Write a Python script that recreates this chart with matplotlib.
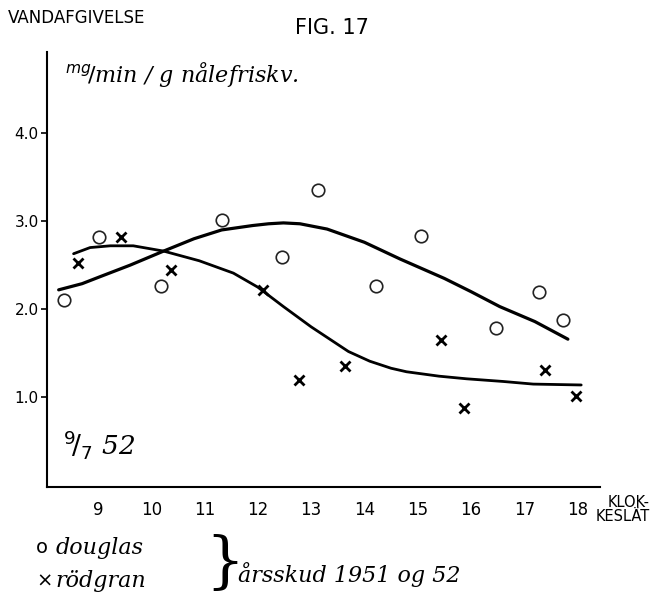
#vandafgivelse, fig 17 - douglas og rødgran 9/7 52
import numpy as np
import matplotlib.pyplot as plt

# clock hours (x) and water loss mg/min/g (y)
douglas_t = [8.36, 9.02, 10.18, 11.32, 12.45, 13.12, 14.22, 15.07, 16.47, 17.28, 17.73]
douglas_v = [2.10, 2.82, 2.26, 3.01, 2.59, 3.35, 2.26, 2.83, 1.79, 2.19, 1.88]

rodgran_t = [8.62, 9.43, 10.36, 12.09, 12.78, 13.64, 15.43, 15.87, 17.39, 17.97]
rodgran_v = [2.53, 2.82, 2.44, 2.22, 1.20, 1.36, 1.65, 0.88, 1.31, 1.01]

# hand drawn curves, traced points
douglas_curve_t = [8.26, 8.7, 9.04, 9.6, 10.23, 10.8, 11.32, 11.9, 12.2, 12.48, 12.79, 13.3, 14.0, 14.67, 15.5, 16.0, 16.54, 17.2, 17.82]
douglas_curve_v = [2.22, 2.29, 2.37, 2.50, 2.66, 2.80, 2.90, 2.95, 2.97, 2.98, 2.97, 2.91, 2.76, 2.57, 2.35, 2.20, 2.03, 1.86, 1.66]

rodgran_curve_t = [8.54, 8.85, 9.23, 9.66, 10.23, 10.9, 11.54, 12.0, 12.48, 13.0, 13.35, 13.7, 14.1, 14.5, 14.79, 15.4, 15.92, 16.6, 17.17, 18.07]
rodgran_curve_v = [2.63, 2.70, 2.72, 2.72, 2.66, 2.55, 2.41, 2.25, 2.03, 1.80, 1.66, 1.52, 1.41, 1.33, 1.29, 1.24, 1.21, 1.18, 1.15, 1.14]

hours = [9, 10, 11, 12, 13, 14, 15, 16, 17, 18]
yticks = [1.0, 2.0, 3.0, 4.0]
ylabels = ['1.0', '2.0', '3.0', '4.0']

fig = plt.figure(figsize=(6.52, 6.12), dpi=100)
ax = fig.add_axes([0.072, 0.204, 0.848, 0.711])

ax.plot(douglas_curve_t, douglas_curve_v, color='black', lw=2.3, solid_capstyle='round', solid_joinstyle='round')
ax.plot(rodgran_curve_t, rodgran_curve_v, color='black', lw=2.0, solid_capstyle='round', solid_joinstyle='round')
ax.plot(douglas_t, douglas_v, 'o', ms=9, mfc='white', mec='#222222', mew=1.2, ls='none')
ax.plot(rodgran_t, rodgran_v, 'x', ms=7, mec='black', mew=2.0, ls='none')

ax.set_xlim(8.04, 18.42)
ax.set_ylim(-0.02, 4.92)
ax.spines['top'].set_visible(False)
ax.spines['right'].set_visible(False)
ax.spines['left'].set_linewidth(1.5)
ax.spines['bottom'].set_linewidth(1.5)

ax.set_xticks(hours)
ax.set_xticklabels([str(h) for h in hours], fontsize=12)
ax.tick_params(axis='x', length=0, pad=10)
ax.set_yticks(yticks)
ax.set_yticklabels(ylabels, fontsize=11)
ax.tick_params(axis='y', length=4, width=1.2, direction='out', pad=2)

ax.text(8.35, 0.35, '$^9\\!/_7$ 52', fontsize=19, style='italic', fontfamily='DejaVu Serif')

fig.text(0.012, 0.970, 'VANDAFGIVELSE', fontsize=12, va='center')
fig.text(0.452, 0.955, 'FIG. 17', fontsize=15, va='center')
fig.text(0.10, 0.878, '$^{mg}\\!/$min / g nålefriskv.', fontsize=16, style='italic',
         fontfamily='DejaVu Serif', va='center')
fig.text(0.997, 0.168, 'KLOK-\nKESLÄT', fontsize=10.5, ha='right', va='center',
         multialignment='right', linespacing=0.9)

fig.text(0.055, 0.105, 'o', fontsize=14, va='center')
fig.text(0.085, 0.105, 'douglas', fontsize=16, style='italic', fontfamily='DejaVu Serif', va='center')
fig.text(0.055, 0.050, '×', fontsize=14, va='center')
fig.text(0.085, 0.050, 'rödgran', fontsize=16, style='italic', fontfamily='DejaVu Serif', va='center')
fig.text(0.315, 0.078, '}', fontsize=44, va='center', fontfamily='DejaVu Serif')
fig.text(0.365, 0.062, 'årsskud 1951 og 52', fontsize=16, style='italic',
         fontfamily='DejaVu Serif', va='center')

plt.savefig('out.png', dpi=100)
